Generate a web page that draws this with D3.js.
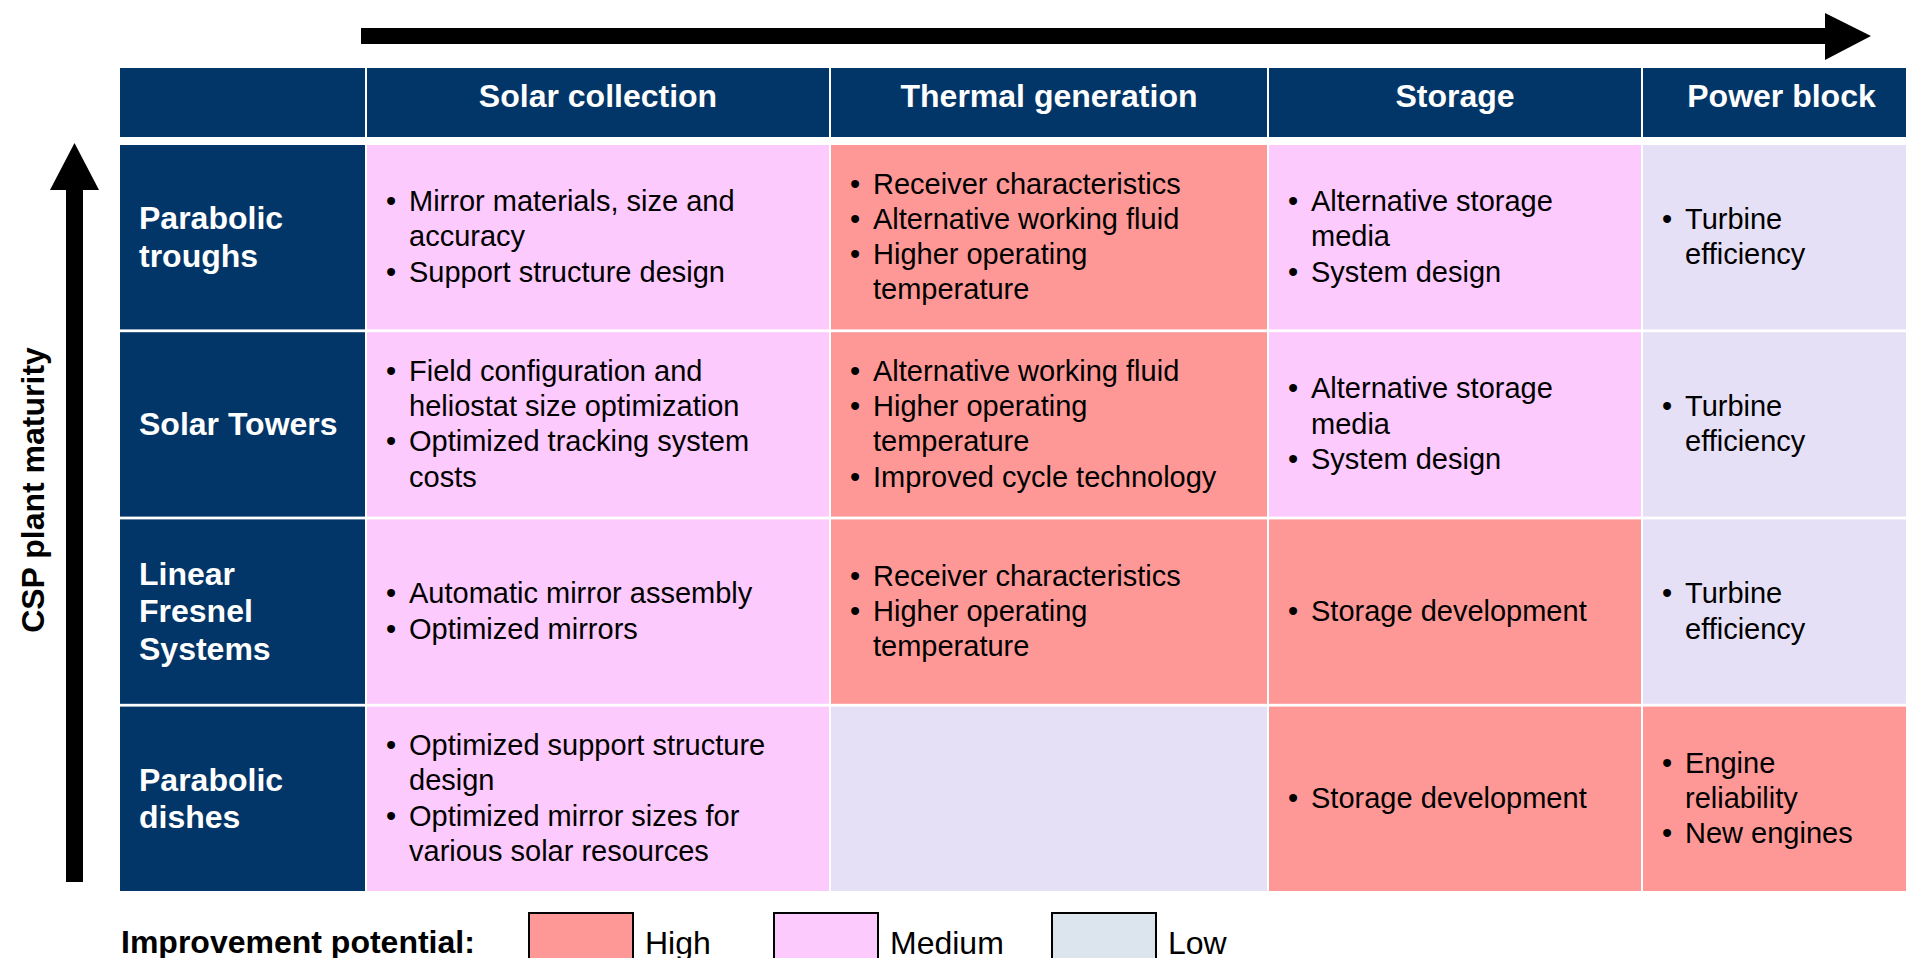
<!DOCTYPE html>
<html>
<head>
<meta charset="utf-8">
<title>CSP improvement potential</title>
<script src="https://cdn.jsdelivr.net/npm/d3@7"></script>
<style>
  body { margin: 0; background: #fff; }
  svg { display: block; font-family: Arial, "Liberation Sans", sans-serif; }
</style>
</head>
<body>
<div id="chart"></div>
<script>
// ---- data ----
var stages = ["Solar collection", "Thermal generation", "Storage", "Power block"];
var technologies = ["Parabolic|troughs", "Solar Towers", "Linear|Fresnel|Systems", "Parabolic|dishes"];
var levels = ["High", "Medium", "Low"];

// improvement potential per technology (rows) and stage (columns)
var potential = [
  ["Medium", "High", "Medium", "Low"],
  ["Medium", "High", "Medium", "Low"],
  ["Medium", "High", "High", "Low"],
  ["Medium", "Low", "High", "High"]
];

// bullet items, "|" marks a line break inside an item
var items = [
  [["Mirror materials, size and|accuracy", "Support structure design"],
   ["Receiver characteristics", "Alternative working fluid", "Higher operating|temperature"],
   ["Alternative storage|media", "System design"],
   ["Turbine|efficiency"]],
  [["Field configuration and|heliostat size optimization", "Optimized tracking system|costs"],
   ["Alternative working fluid", "Higher operating|temperature", "Improved cycle technology"],
   ["Alternative storage|media", "System design"],
   ["Turbine|efficiency"]],
  [["Automatic mirror assembly", "Optimized mirrors"],
   ["Receiver characteristics", "Higher operating|temperature"],
   ["Storage development"],
   ["Turbine|efficiency"]],
  [["Optimized support structure|design", "Optimized mirror sizes for|various solar resources"],
   [],
   ["Storage development"],
   ["Engine|reliability", "New engines"]]
];

var yAxisLabel = "CSP plant maturity";
var legendTitle = "Improvement potential:";

// ---- layout ----
var W = 1906, H = 958;
var navy = "#033668";
var color = d3.scaleOrdinal().domain(levels).range(["#fe9896", "#fdcafd", "#e6e0f7"]);
var legendColor = d3.scaleOrdinal().domain(levels).range(["#fe9896", "#fdcafd", "#dce4ee"]);

var cols = ["label"].concat(stages);
var colX = d3.scaleOrdinal().domain(cols).range([120, 367, 831, 1269, 1643]);
var colW = d3.scaleOrdinal().domain(cols).range([245, 462, 436, 372, 277]);

var rowY = d3.scaleBand().domain(technologies).range([145, 891]).paddingInner(0.015);
var headTop = 68, headH = 69;

var bodyFs = 29, boldFs = 32, lh = 35.3, hlh = 37.5;

var svg = d3.select("#chart").append("svg")
  .attr("width", W).attr("height", H);

// arrows
var arrows = svg.append("g").attr("fill", "#000");
arrows.append("rect").attr("x", 361).attr("y", 28).attr("width", 1466).attr("height", 16);
arrows.append("path").attr("d", "M1825,13 L1871,36 L1825,60 Z");
arrows.append("rect").attr("x", 66).attr("y", 188).attr("width", 17).attr("height", 694);
arrows.append("path").attr("d", "M50,190 L74.5,143 L99,190 Z");

svg.append("text")
  .attr("transform", "translate(44,490) rotate(-90)")
  .attr("text-anchor", "middle")
  .attr("font-size", 32).attr("font-weight", "bold")
  .text(yAxisLabel);

// header row
var header = svg.append("g");
header.selectAll("rect").data(cols).join("rect")
  .attr("x", function(d) { return colX(d); })
  .attr("y", headTop)
  .attr("width", function(d) { return colW(d); })
  .attr("height", headH)
  .attr("fill", navy);
header.selectAll("text").data(stages).join("text")
  .attr("x", function(d) { return colX(d) + colW(d) / 2; })
  .attr("y", headTop + 39)
  .attr("text-anchor", "middle")
  .attr("fill", "#fff").attr("font-size", boldFs).attr("font-weight", "bold")
  .text(function(d) { return d; });

// row headers
var rowHead = svg.append("g").selectAll("g").data(technologies).join("g");
rowHead.append("rect")
  .attr("x", colX("label")).attr("y", function(d) { return rowY(d); })
  .attr("width", colW("label")).attr("height", rowY.bandwidth())
  .attr("fill", navy);
rowHead.each(function(d) {
  var lines = d.split("|");
  var cy = rowY(d) + rowY.bandwidth() / 2;
  d3.select(this).selectAll("text").data(lines).join("text")
    .attr("x", colX("label") + 19)
    .attr("y", function(l, i) { return cy + (i - (lines.length - 1) / 2) * hlh + boldFs * 0.33; })
    .attr("fill", "#fff").attr("font-size", boldFs).attr("font-weight", "bold")
    .text(function(l) { return l; });
});

// body cells
var cells = [];
technologies.forEach(function(t, r) {
  stages.forEach(function(s, c) {
    cells.push({ tech: t, stage: s, level: potential[r][c], items: items[r][c] });
  });
});

var cell = svg.append("g").selectAll("g").data(cells).join("g");
cell.append("rect")
  .attr("x", function(d) { return colX(d.stage); })
  .attr("y", function(d) { return rowY(d.tech); })
  .attr("width", function(d) { return colW(d.stage); })
  .attr("height", rowY.bandwidth())
  .attr("fill", function(d) { return color(d.level); });

cell.each(function(d) {
  var lines = [];
  d.items.forEach(function(it) {
    it.split("|").forEach(function(l, j) { lines.push({ text: l, first: j === 0 }); });
  });
  var n = lines.length;
  var cy = rowY(d.tech) + rowY.bandwidth() / 2;
  var x0 = colX(d.stage);
  var g = d3.select(this);
  lines.forEach(function(l, i) {
    var y = cy + (i - (n - 1) / 2) * lh + bodyFs * 0.32;
    if (l.first) {
      g.append("text").attr("x", x0 + 19).attr("y", y)
        .attr("font-size", bodyFs).attr("fill", "#000").text("\u2022");
    }
    g.append("text").attr("x", x0 + 42).attr("y", y)
      .attr("font-size", bodyFs).attr("fill", "#000").text(l.text);
  });
});

// legend
var legend = svg.append("g");
legend.append("text").attr("x", 121).attr("y", 953)
  .attr("font-size", boldFs).attr("font-weight", "bold").text(legendTitle);
var legX = d3.scaleOrdinal().domain(levels).range([529, 774, 1052]);
var lg = legend.selectAll("g.item").data(levels).join("g").attr("class", "item");
lg.append("rect")
  .attr("x", function(d) { return legX(d); }).attr("y", 913)
  .attr("width", 104).attr("height", 60)
  .attr("fill", function(d) { return legendColor(d); })
  .attr("stroke", "#000").attr("stroke-width", 2);
lg.append("text")
  .attr("x", function(d) { return legX(d) + 116; }).attr("y", 954)
  .attr("font-size", 32).text(function(d) { return d; });
</script>
</body>
</html>
